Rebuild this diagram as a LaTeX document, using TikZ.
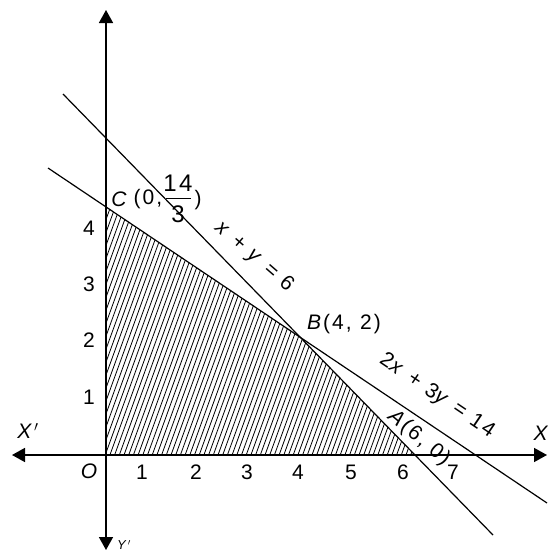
\documentclass[tikz,border=0pt]{standalone}
\usepackage{fontspec}
\setmainfont{Liberation Sans}[LetterSpace=10]
\usetikzlibrary{arrows.meta}
\newcommand\labfont{\fontsize{21}{25}\selectfont}
\newcommand\fracfont{\fontsize{24}{28}\selectfont}
\newcommand\gp{\hspace{0.4em}}
\begin{document}
\begin{tikzpicture}[x=1pt,y=-1pt,
  lab/.style={font=\labfont, inner sep=0pt},
  fraclab/.style={font=\fracfont, inner sep=0pt},
  axis/.style={line width=1.6pt, {Triangle[length=13pt,width=14pt]}-{Triangle[length=13pt,width=14pt]}},
  constraint/.style={line width=1.2pt},
  hatch/.style={line width=0.8pt}]
\useasboundingbox (0,0) rectangle (547,552);
% key points
\coordinate (O) at (106,455);
\coordinate (C) at (106,207);
\coordinate (A) at (415,455);
\coordinate (B) at (300.3,337.4);
\coordinate (L1s) at (63,94);
\coordinate (L1e) at (493,535);
\coordinate (L2s) at (48,168);
\coordinate (L2e) at (547,503);
\coordinate (Xl) at (12,455);
\coordinate (Xr) at (547,455);
\coordinate (Yt) at (106,10);
\coordinate (Yb) at (106,550);
% hatching
\begin{scope}
  \clip (O) -- (A) -- (B) -- (C) -- cycle;
  \foreach \i in {0,...,95} {
    \draw[hatch] (\i*4.7,460) -- ++(95,-262);
  }
\end{scope}
% constraint lines
\draw[constraint] (L1s) -- (L1e);
\draw[constraint] (L2s) -- (L2e);
% axes
\draw[axis] (Xl) -- (Xr);
\draw[axis] (Yt) -- (Yb);
% tick labels
\foreach \v/\yy in {1/397,2/340,3/284,4/228} {
  \node[lab] (ty\v) at (89,\yy) {\v};
}
\foreach \v/\xx in {1/142,2/196,3/247,4/298,5/351,6/403,7/453} {
  \node[lab] (tx\v) at (\xx,472) {\v};
}
\node[lab] (lO) at (90,471) {\textit{O}};
\node[lab] (lXp) at (28,431) {\textit{X}$'$};
\node[lab] (lX) at (542,433) {\textit{X}};
\node[font=\fontsize{13}{15}\selectfont, inner sep=0pt] (lYp) at (124,545) {\textit{Y}$'$};
% point C
\node[lab] (lC) at (120,199) {\textit{C}};
\node[lab] (lC0) at (148,199) {(0,};
\node[fraclab] (lCn) at (178,183) {14};
\draw[line width=1pt] (166,198) -- (191,198);
\node[fraclab] (lCd) at (178,214) {3};
\node[lab] (lCr) at (198,200) {)};
% point B
\node[lab] (lB) at (344,324) {\textit{B}(4,\gp2)};
% point A
\node[lab, rotate=-40] (lA) at (419,438) {\textit{A}(6,\gp0)};
% line labels
\node[lab, rotate=-41] (l1) at (254,257) {\textit{x}\gp+\gp\textit{y}\gp=\gp6};
\node[lab, rotate=-34] (l2) at (437,396) {2\textit{x}\gp+\gp3\textit{y}\gp=\gp14};
\end{tikzpicture}
\end{document}
